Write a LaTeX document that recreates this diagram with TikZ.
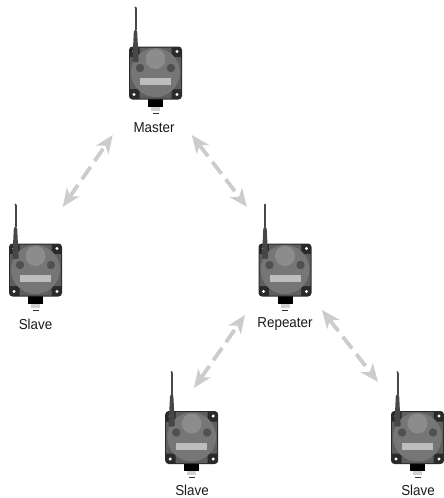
\documentclass[tikz,border=0pt]{standalone}
\usepackage{fontspec}
\setmainfont[FakeStretch=0.93]{Liberation Sans}
\usetikzlibrary{arrows.meta}
\definecolor{bodydark}{HTML}{2A2A2A}
\definecolor{bodygray}{HTML}{5E5E5E}
\definecolor{facegray}{HTML}{767676}
\definecolor{domegray}{HTML}{8C8C8C}
\definecolor{knobgray}{HTML}{505050}
\definecolor{barlight}{HTML}{BDBDBD}
\definecolor{linkgray}{HTML}{CCCCCC}
\tikzset{
  x=1pt,y=-1pt,
  devlabel/.style={font=\fontsize{14.4}{16}\selectfont,text=black!90,inner sep=0pt,anchor=center},
  wireless/.style={draw=linkgray,line width=3.8pt,dash pattern=on 15pt off 7pt,
    {Stealth[length=18pt,width=15pt,inset=5pt]}-{Stealth[length=18pt,width=15pt,inset=5pt]}},
  pics/radio/.style={code={
    % connector
    \fill[barlight!70] (-4.5,33) rectangle (4.5,37.5);
    \fill[black!80] (-3,39.5) rectangle (3,40.3);
    \fill[black] (-7.5,26) rectangle (7.5,33.5);
    % case
    \fill[bodydark,rounded corners=3.5pt] (-26.5,-26.5) rectangle (26.5,26.5);
    \fill[bodygray] (-25.5,-16) -- (-16,-16) -- (-16,-25.5) -- (16,-25.5) -- (16,-16) -- (25.5,-16) -- (25.5,16) -- (16,16) -- (16,25.5) -- (-16,25.5) -- (-16,16) -- (-25.5,16) -- cycle;
    \fill[facegray] (0,-0.5) circle (24.5);
    \fill[white] (-21.5,-21.5) circle (1.7) (21.5,-21.5) circle (1.7) (-21.5,21.5) circle (1.7) (21.5,21.5) circle (1.7);
    % front
    \fill[domegray] (0,-14) circle (10);
    \fill[knobgray] (-15.5,-5) circle (4.2) (15.5,-5) circle (4.2);
    \fill[barlight] (-15.5,5) rectangle (15.5,12);
    % antenna
    \fill[black!72] (-21,-65) rectangle (-19,-43);
    \fill[black!72] (-20,-65.3) circle (1.2);
    \fill[black!72,rounded corners=1.2pt] (-21.6,-43) -- (-18.4,-43) -- (-16.8,-11) -- (-23.2,-11) -- cycle;
  }}
}
\begin{document}
\begin{tikzpicture}
\useasboundingbox (0,0) rectangle (444,498);
\pic at (155.5,73) {radio};
\pic at (35.5,270) {radio};
\pic at (285,270) {radio};
\pic at (191.7,437.5) {radio};
\pic at (417.5,437.5) {radio};
\node[devlabel] (master) at (154,128) {Master};
\node[devlabel] (slaveA) at (35.5,324.5) {Slave};
\node[devlabel] (repeater) at (285,324.5) {Repeater};
\node[devlabel] (slaveB) at (192,490.5) {Slave};
\node[devlabel] (slaveC) at (418,490.5) {Slave};
\coordinate (m1) at (112.7,135);
\coordinate (a1) at (62.7,207);
\coordinate (m2) at (191.7,135);
\coordinate (r1) at (247,207);
\coordinate (r2) at (245,315);
\coordinate (b1) at (194,388);
\coordinate (r3) at (322,310);
\coordinate (c1) at (378,382);
\draw[wireless] (a1) -- (m1);
\draw[wireless] (m2) -- (r1);
\draw[wireless] (b1) -- (r2);
\draw[wireless] (r3) -- (c1);
\end{tikzpicture}
\end{document}
